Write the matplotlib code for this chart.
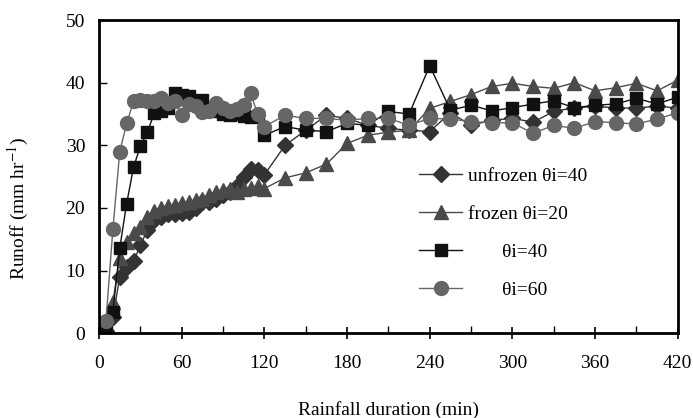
import matplotlib
matplotlib.use("Agg")
import matplotlib.pyplot as plt
from matplotlib.ticker import MultipleLocator

plt.rcParams['font.family'] = ['Liberation Serif', 'DejaVu Serif']
plt.rcParams['mathtext.fontset'] = 'stix'

# rainfall duration (min): 5-min steps up to 120, then every 15 min
t = list(range(5, 121, 5)) + list(range(135, 421, 15))

unfrozen_40 = [0.3, 2.5, 9.0, 10.5, 11.5, 14.0, 16.5, 18.0, 18.5, 19.0, 19.0, 19.2,
               19.3, 20.0, 21.0, 21.0, 21.5, 22.0, 22.5, 23.5, 25.0, 26.2, 26.0, 25.3,
               30.0, 32.4, 34.8, 34.3, 33.2, 32.7, 32.4, 32.2, 35.2, 33.2, 34.0, 34.3,
               33.7, 35.4, 36.0, 36.2, 36.0, 35.9, 36.3, 35.9]
frozen_20 = [0.5, 5.0, 12.0, 14.5, 16.0, 17.0, 18.5, 19.5, 20.0, 20.3, 20.5, 20.8,
             21.0, 21.3, 21.5, 22.0, 22.5, 22.8, 23.0, 22.5, 23.0, 23.2, 23.5, 23.1,
             24.8, 25.6, 27.0, 30.3, 31.6, 32.1, 32.4, 35.9, 37.0, 38.1, 39.4, 39.9,
             39.4, 39.1, 40.0, 38.7, 39.2, 39.9, 38.7, 40.4]
theta_40 = [0.5, 3.4, 13.6, 20.7, 26.5, 29.9, 32.1, 35.1, 35.4, 36.0, 38.4, 38.0,
            37.8, 37.0, 37.3, 36.0, 35.4, 35.0, 34.8, 35.0, 34.6, 34.5, 34.6, 31.6,
            33.0, 32.4, 32.2, 33.5, 33.2, 35.4, 35.0, 42.7, 35.6, 36.4, 35.5, 36.0,
            36.6, 37.1, 36.0, 36.4, 36.6, 37.5, 36.6, 37.7]
theta_60 = [2.0, 16.6, 29.0, 33.5, 37.0, 37.2, 37.0, 37.0, 37.5, 36.8, 37.0, 34.8,
            36.6, 36.2, 35.3, 35.5, 36.8, 36.0, 35.5, 35.8, 36.5, 38.3, 35.0, 33.0,
            34.8, 34.3, 34.3, 34.0, 34.3, 34.3, 33.2, 34.3, 34.2, 33.8, 33.6, 33.6,
            31.9, 33.2, 32.7, 33.8, 33.6, 33.4, 34.2, 35.2]

fig, ax = plt.subplots(figsize=(6.93, 4.18), dpi=100)
fig.subplots_adjust(left=0.143, right=0.978, bottom=0.203, top=0.952)

ax.plot(t, unfrozen_40, color='#333333', marker='D', ms=8, lw=1,
        label='unfrozen θi=40')
ax.plot(t, frozen_20, color='#4a4a4a', marker='^', ms=10, lw=1,
        label='frozen θi=20')
ax.plot(t, theta_40, color='#111111', marker='s', ms=9, lw=1,
        label='       θi=40')
ax.plot(t, theta_60, color='#666666', marker='o', ms=10, lw=1,
        label='       θi=60')

ax.set_xlim(0, 420)
ax.set_ylim(0, 50)
ax.xaxis.set_major_locator(MultipleLocator(60))
ax.xaxis.set_minor_locator(MultipleLocator(30))
ax.yaxis.set_major_locator(MultipleLocator(10))

for s in ax.spines.values():
    s.set_linewidth(2)

ax.tick_params(axis='x', which='major', direction='inout', length=9, width=1.2,
               labelsize=14, pad=11)
ax.tick_params(axis='x', which='minor', direction='in', length=5, width=1)
ax.tick_params(axis='y', which='major', direction='in', length=6, width=1,
               labelsize=14, pad=10)

ax.set_xlabel('Rainfall duration (min)', fontsize=14, labelpad=21)
ax.set_ylabel('Runoff (mm hr$^{-1}$)', fontsize=14)
ax.yaxis.set_label_coords(-0.117, 0.40)

ax.legend(loc='upper left', bbox_to_anchor=(0.54, 0.555), frameon=False,
          fontsize=14, handlelength=2.2, handletextpad=0.3, labelspacing=1.05,
          borderaxespad=0)

fig.savefig('out.png', dpi=100)
